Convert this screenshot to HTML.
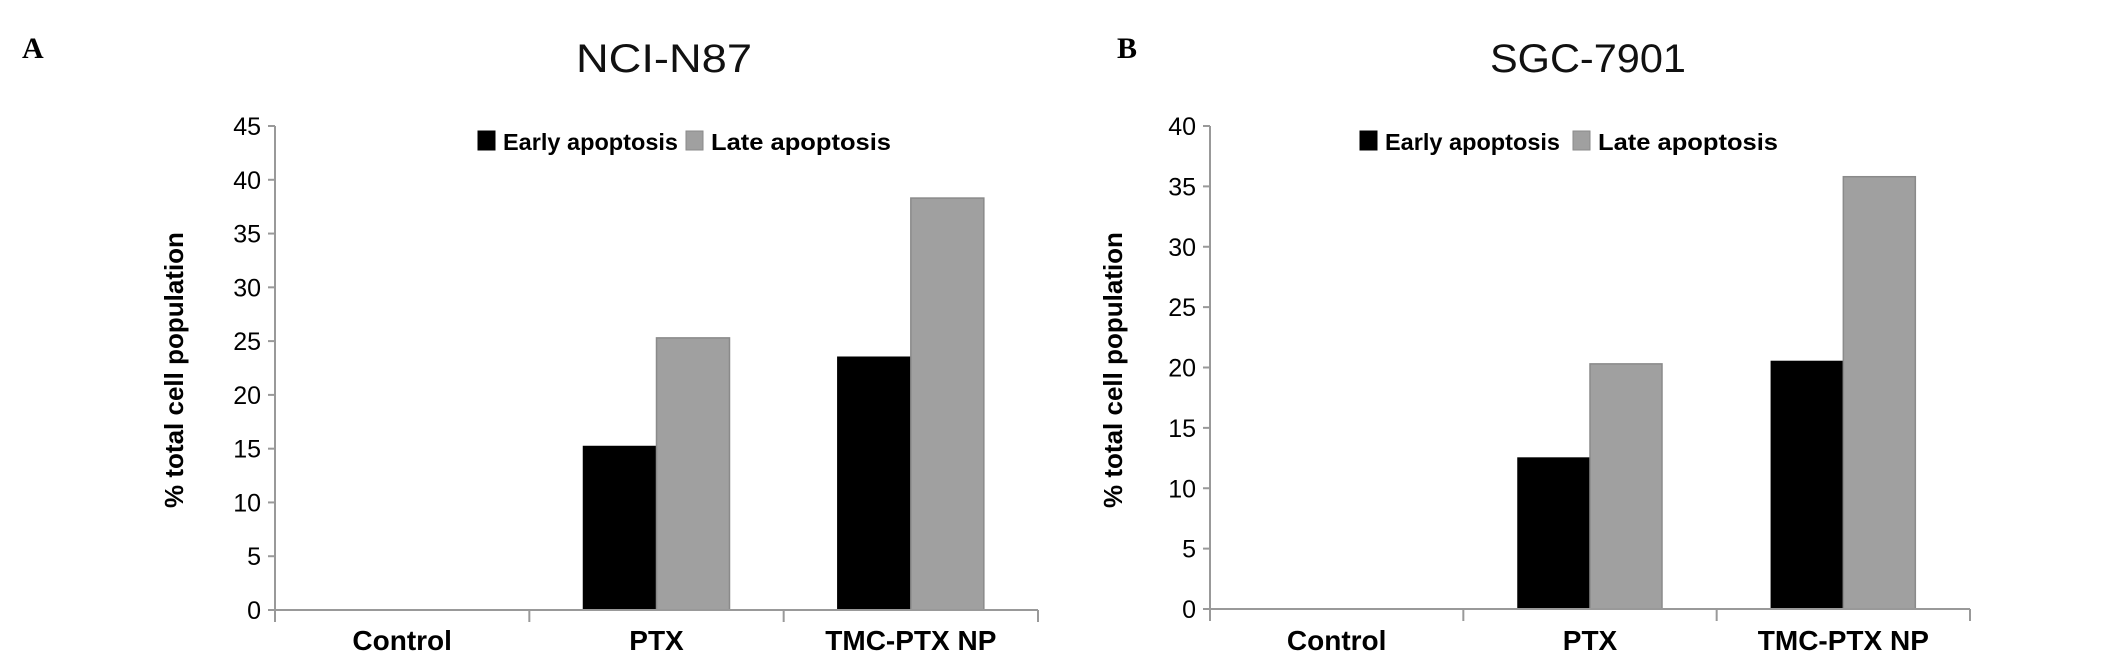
<!DOCTYPE html>
<html><head><meta charset="utf-8"><style>
html,body{margin:0;padding:0;background:#fff;}
svg{display:block;}
</style></head><body>
<svg id="fig" width="2126" height="663" viewBox="0 0 2126 663" xmlns="http://www.w3.org/2000/svg"></svg>
<script>
const categories = ["Control", "PTX", "TMC-PTX NP"];
const seriesNames = ["Early apoptosis", "Late apoptosis"];
const earlyA = [0, 15.2, 23.5];
const lateA = [0, 25.3, 38.3];
const earlyB = [0, 12.5, 20.5];
const lateB = [0, 20.3, 35.8];
const ticksA = [0, 5, 10, 15, 20, 25, 30, 35, 40, 45];
const ticksB = [0, 5, 10, 15, 20, 25, 30, 35, 40];

const NS = "http://www.w3.org/2000/svg";
const svg = document.getElementById('fig');
function mk(tag, attrs, parent, text) {
  const e = document.createElementNS(NS, tag);
  for (const k in attrs) e.setAttribute(k, attrs[k]);
  if (text !== undefined) e.textContent = text;
  (parent || svg).appendChild(e);
  return e;
}
const colors = ["#000000", "#a0a0a0"];
const strokes = ["#000000", "#8a8a8a"];
const legW = [175, 180];

function panel(cfg) {
  const g = mk('g', {});
  
  
  const x0 = cfg.x0, x1 = cfg.x1, y0 = cfg.y0, yTop = cfg.yTop, vmax = cfg.ticks[cfg.ticks.length - 1];
  const yScale = v => y0 - (v / vmax) * (y0 - yTop);
  const bandW = (x1 - x0) / categories.length;
  const xBand = i => x0 + i * bandW;

  const letter = mk('text', {x: cfg.letterX, y: 58, 'font-family': '"Liberation Serif", serif', 'font-weight': 'bold', 'font-size': 30, fill: '#000'}, g, cfg.letter);
  
  

  const title = mk('text', {x: cfg.titleX, y: 72, 'text-anchor': 'middle', 'font-family': '"Liberation Sans", sans-serif', 'font-size': 40, fill: '#111', textLength: cfg.titleW, lengthAdjust: 'spacingAndGlyphs'}, g, cfg.title);
  
  

  const yt = mk('text', {x: 0, y: 0, transform: `translate(${cfg.yTitleX},370) rotate(-90)`, 'text-anchor': 'middle', 'font-family': '"Liberation Sans", sans-serif', 'font-weight': 'bold', 'font-size': 26, fill: '#000'}, g, '% total cell population');
  
  

  const ya = mk('line', {x1: x0, y1: yTop, x2: x0, y2: y0, stroke: '#999', 'stroke-width': 2}, g);
  
  
  cfg.ticks.forEach(t => {
    const y = yScale(t);
    const tk = mk('line', {x1: x0 - 7, y1: y, x2: x0, y2: y, stroke: '#999', 'stroke-width': 2}, g);
    
    
    const tl = mk('text', {x: x0 - 14, y: y + 9, 'text-anchor': 'end', 'font-family': '"Liberation Sans", sans-serif', 'font-size': 25, fill: '#000'}, g, String(t));
    
    
  });

  const bw = cfg.barW;
  const data = [cfg.early, cfg.late];
  categories.forEach((c, i) => {
    const cx = xBand(i) + bandW / 2;
    data.forEach((arr, s) => {
      const v = arr[i];
      if (v <= 0) return;
      const bx = cx - bw + s * bw;
      const r = mk('rect', {x: bx, y: yScale(v), width: bw, height: y0 - yScale(v), fill: colors[s], stroke: strokes[s], 'stroke-width': 1.5}, g);
      
      
    });
  });

  const xa = mk('line', {x1: x0, y1: y0, x2: x1, y2: y0, stroke: '#999', 'stroke-width': 2}, g);
  
  
  for (let i = 0; i <= categories.length; i++) {
    const tk = mk('line', {x1: xBand(i), y1: y0, x2: xBand(i), y2: y0 + 12, stroke: '#999', 'stroke-width': 2}, g);
    
    
  }
  categories.forEach((c, i) => {
    const tl = mk('text', {x: xBand(i) + bandW / 2, y: 650, 'text-anchor': 'middle', 'font-family': '"Liberation Sans", sans-serif', 'font-weight': 'bold', 'font-size': 28, fill: '#000'}, g, c);
    
    
  });

  const lg = mk('g', {}, g);
  
  
  seriesNames.forEach((n, s) => {
    const sw = mk('rect', {x: cfg.legX[s], y: 131, width: 17, height: 19, fill: colors[s], stroke: strokes[s], 'stroke-width': 1}, lg);
    
    
    const lt = mk('text', {x: cfg.legX[s] + 25, y: 150, 'font-family': '"Liberation Sans", sans-serif', 'font-weight': 'bold', 'font-size': 23, fill: '#000', textLength: legW[s], lengthAdjust: 'spacingAndGlyphs'}, lg, n);
    
    
  });
}

panel({name: 'chart-nci-n87', letter: 'A', letterX: 22, title: 'NCI-N87', titleX: 664, titleW: 176, yTitleX: 183,
  x0: 275, x1: 1038, y0: 610, yTop: 126, ticks: ticksA, early: earlyA, late: lateA, barW: 73, legX: [478, 686]});
panel({name: 'chart-sgc-7901', letter: 'B', letterX: 1117, title: 'SGC-7901', titleX: 1588, titleW: 196, yTitleX: 1122,
  x0: 1210, x1: 1970, y0: 609, yTop: 126, ticks: ticksB, early: earlyB, late: lateB, barW: 72, legX: [1360, 1573]});
</script>
</body></html>
